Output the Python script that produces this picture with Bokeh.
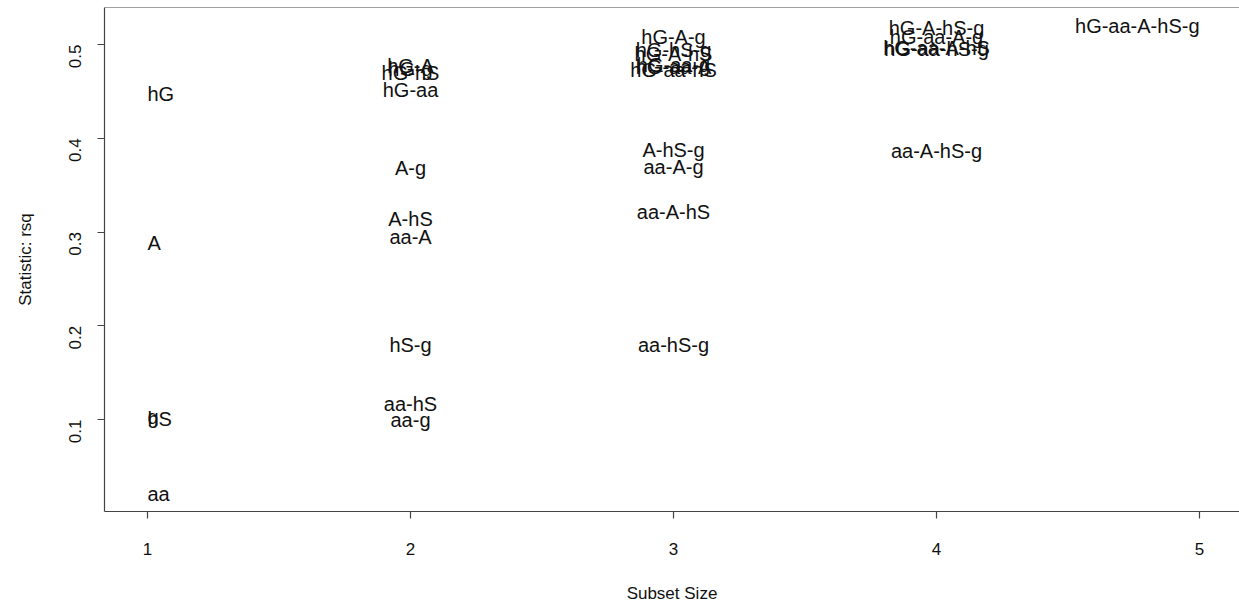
import math
from bokeh.plotting import figure
from bokeh.models import ColumnDataSource, Range1d, FixedTicker, Span
from bokeh.core.properties import value
from bokeh.embed import file_html
from bokeh.resources import INLINE

# subset labels, sizes and R-squared values
subsets = [
    "hG", "A", "hS", "g", "aa",
    "hG-A", "hG-g", "hG-hS", "hG-aa", "A-g", "A-hS", "aa-A", "hS-g", "aa-hS", "aa-g",
    "hG-A-g", "hG-hS-g", "hG-A-hS", "hG-aa-g", "hG-aa-A", "hG-aa-hS",
    "A-hS-g", "aa-A-g", "aa-A-hS", "aa-hS-g",
    "hG-A-hS-g", "hG-aa-A-g", "hG-aa-A-hS", "hG-aa-hS-g", "aa-A-hS-g",
    "hG-aa-A-hS-g",
]
sizes = [1] * 5 + [2] * 10 + [3] * 10 + [4] * 5 + [5]
rsq = [
    0.447, 0.288, 0.101, 0.103, 0.021,
    0.477, 0.474, 0.470, 0.451, 0.368, 0.314, 0.295, 0.179, 0.117, 0.100,
    0.508, 0.494, 0.490, 0.478, 0.476, 0.473,
    0.387, 0.369, 0.321, 0.179,
    0.518, 0.5075, 0.496, 0.495, 0.386,
    0.520,
]
x_ticks = [1, 2, 3, 4, 5]
y_ticks = [0.1, 0.2, 0.3, 0.4, 0.5]

smin, smax = min(sizes), max(sizes)
align = ["left" if s == smin else ("right" if s == smax else "center") for s in sizes]

src = ColumnDataSource(dict(x=sizes, y=rsq, lab=subsets, align=align))

FONT = "Liberation Sans"
LINE = "#444444"

y_top = 0.5395
p = figure(width=1239, height=608, output_backend="svg", toolbar_location=None,
           x_range=Range1d(0.8365, 5.152), y_range=Range1d(0.00187, y_top),
           min_border_left=104, min_border_right=0, min_border_top=7, min_border_bottom=97)

p.text(x="x", y="y", text="lab", source=src, text_align="align",
       text_baseline="middle", text_font=value(FONT), text_font_size="20px",
       text_color="#111111")

p.grid.visible = False
p.outline_line_color = None
p.background_fill_color = "white"
p.border_fill_color = "white"

p.add_layout(Span(location=y_top, dimension="width", line_color=LINE, line_width=1.2))

for ax in (p.xaxis[0], p.yaxis[0]):
    ax.axis_line_color = LINE
    ax.axis_line_width = 1.2
    ax.major_tick_line_color = LINE
    ax.major_tick_line_width = 1.2
    ax.major_tick_out = 7
    ax.major_tick_in = 0
    ax.minor_tick_line_color = None
    ax.major_label_text_font = FONT
    ax.major_label_text_font_size = "17px"
    ax.major_label_text_color = "#111111"
    ax.axis_label_text_font = FONT
    ax.axis_label_text_font_size = "17px"
    ax.axis_label_text_font_style = "normal"
    ax.axis_label_text_color = "#111111"

p.xaxis.ticker = FixedTicker(ticks=x_ticks)
p.yaxis.ticker = FixedTicker(ticks=y_ticks)
p.xaxis.axis_label = "Subset Size"
p.yaxis.axis_label = "Statistic: rsq"
p.yaxis.major_label_orientation = math.pi / 2
p.xaxis.major_label_standoff = 24
p.yaxis.major_label_standoff = 22
p.xaxis.axis_label_standoff = 26
p.yaxis.axis_label_standoff = 26

open("out.html", "w").write(file_html(p, INLINE))
